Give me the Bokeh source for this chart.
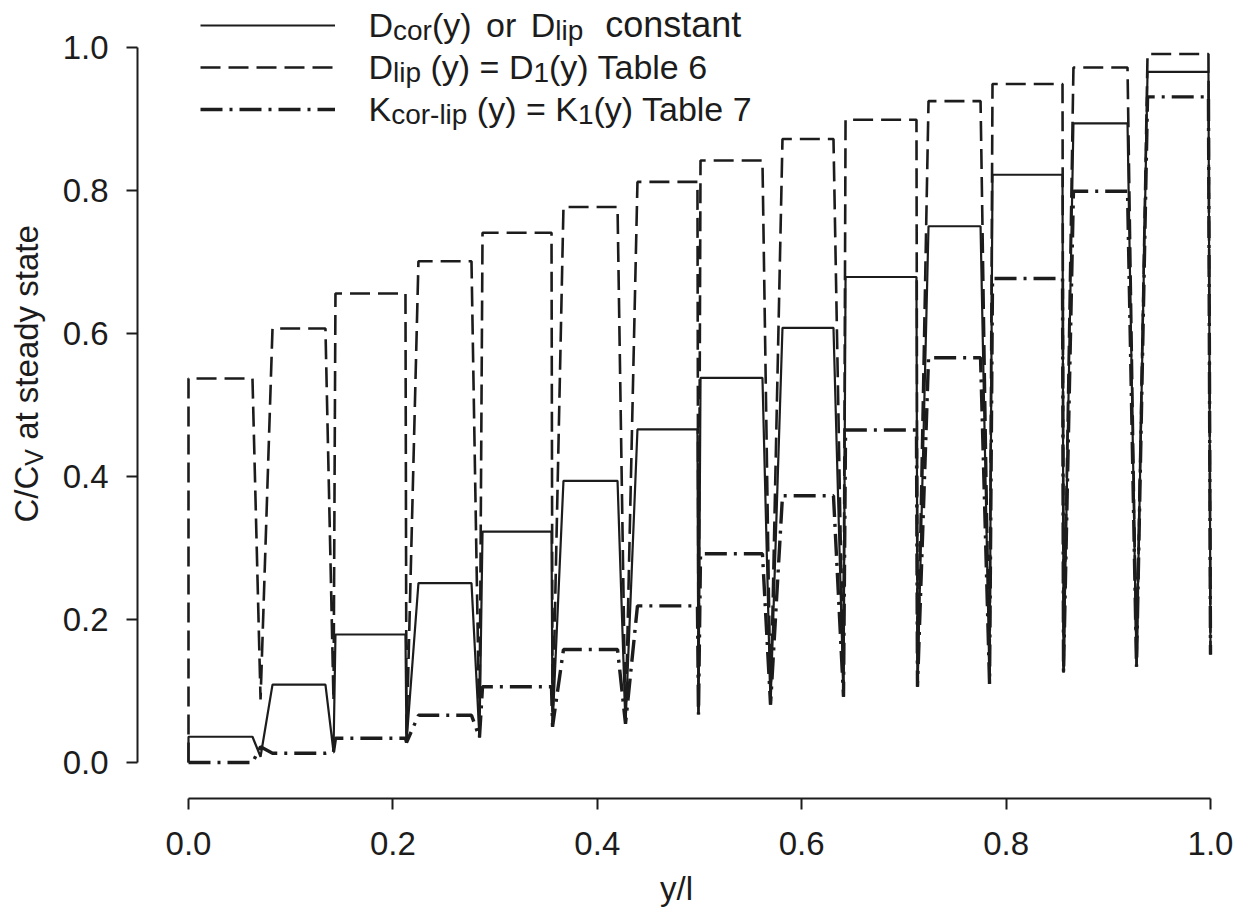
import numpy as np
from bokeh.plotting import figure
from bokeh.layouts import row
from bokeh.models import (Range1d, LinearAxis, FixedTicker, NumeralTickFormatter,
                          Legend, LegendItem, Label)
from bokeh.embed import file_html
from bokeh.resources import INLINE

# Plateau concentration C/Cv inside each of the 14 corneocyte layers
layer_const = [0.036, 0.109, 0.179, 0.251, 0.323, 0.394, 0.466,
               0.538, 0.608, 0.679, 0.750, 0.822, 0.894, 0.966]
layer_dlip_t6 = [0.537, 0.607, 0.656, 0.701, 0.741, 0.777, 0.812,
                 0.842, 0.872, 0.899, 0.925, 0.949, 0.972, 0.991]
layer_kcorlip_t7 = [0.000, 0.013, 0.034, 0.066, 0.106, 0.158, 0.219,
                    0.292, 0.373, 0.465, 0.566, 0.677, 0.799, 0.931]

# Lipid troughs between layers: end of plateau, trough bottom, start of next plateau (y/l)
trough_start = [0.0626, 0.1340, 0.2123, 0.2769, 0.3552, 0.4198, 0.4980,
                0.5616, 0.6311, 0.7123, 0.7750, 0.8552, 0.9188, 0.9980]
trough_mid = [0.0705, 0.1419, 0.2133, 0.2847, 0.3562, 0.4276, 0.4990,
              0.5695, 0.6409, 0.7133, 0.7838, 0.8562, 0.9276, 1.0000]
trough_end = [0.0822, 0.1438, 0.2250, 0.2877, 0.3669, 0.4393, 0.5010,
              0.5812, 0.6429, 0.7241, 0.7867, 0.8659, 0.9384]

# Trough bottom values for each profile
floor_const = [0.008, 0.015, 0.028, 0.035, 0.050, 0.054, 0.067,
               0.081, 0.092, 0.106, 0.110, 0.126, 0.134, 0.151]
floor_dlip_t6 = [0.088, 0.086, 0.028, 0.035, 0.050, 0.054, 0.067,
                 0.081, 0.092, 0.106, 0.110, 0.126, 0.134, 0.151]
floor_kcorlip_t7 = [0.022, 0.015, 0.028, 0.035, 0.050, 0.054, 0.067,
                    0.081, 0.092, 0.106, 0.110, 0.126, 0.134, 0.151]

x_ticks = [0.0, 0.2, 0.4, 0.6, 0.8, 1.0]
y_ticks = [0.0, 0.2, 0.4, 0.6, 0.8, 1.0]


def profile(levels, floors):
    xs, ys = [0.0, 0.0], [0.0, levels[0]]
    for k in range(len(levels)):
        xs += [trough_start[k], trough_mid[k]]
        ys += [levels[k], floors[k]]
        if k + 1 < len(levels):
            xs.append(trough_end[k])
            ys.append(levels[k + 1])
    return xs, ys


INK = "#1c1c1c"
FONT = "Liberation Sans"

# Arial-metric advance widths (per 1000 em)
ADV = {" ": 278, "(": 333, ")": 333, "=": 584, "-": 333, "/": 278, ".": 278,
       "1": 556, "6": 556, "7": 556,
       "C": 722, "D": 722, "K": 667, "T": 611, "V": 667,
       "a": 556, "b": 556, "c": 500, "d": 556, "e": 556, "i": 222, "l": 222,
       "n": 556, "o": 556, "p": 556, "r": 333, "s": 500, "t": 278, "y": 500}


def width(s, size):
    return sum(ADV.get(ch, 556) for ch in s) * size / 1000.0


def sub_shift(main, sub, drop):
    # distance between the em-box middles of a main run and its subscript
    return 0.3465 * main + drop - 0.3465 * sub


# ---- overall geometry (page pixels) ----
W, H = 1250, 916
WA = 56                       # strip holding the rotated y title
FL, FR, FT, FB = 137, 1215, 5, 798
X0PX, X1PX = 188, 1210
Y0PX, Y1PX = 762, 47
sx = (X1PX - X0PX)
sy = (Y0PX - Y1PX)

# ---- y title strip ----
fa = figure(width=WA, height=H, x_range=Range1d(0, WA), y_range=Range1d(0, 1),
            x_axis_location=None, y_axis_location=None, toolbar_location=None,
            output_backend="svg", min_border_left=0, min_border_right=0,
            min_border_top=FT, min_border_bottom=H - FB, outline_line_color=None)
fa.grid.grid_line_color = None

YMAIN, YSUB = 33, 25
yt_center_x = 26
ypos = 522
for txt, is_sub in [("C/C", False), ("V", True), (" at steady state", False)]:
    size = YSUB if is_sub else YMAIN
    lead = len(txt) - len(txt.lstrip(" "))
    ypos -= width(" " * lead, size)
    txt = txt.lstrip(" ")
    cx = yt_center_x + (sub_shift(YMAIN, YSUB, 5) if is_sub else 0)
    fa.add_layout(Label(x=cx, y=FB - ypos, x_units="screen", y_units="screen",
                        text=txt, text_font=FONT, text_font_size=f"{size}px",
                        text_color=INK, text_align="left", text_baseline="middle",
                        angle=np.pi / 2, angle_units="rad"))
    ypos -= width(txt, size)

# ---- main plot ----
p = figure(width=W - WA, height=H,
           x_range=Range1d((FL - X0PX) / sx, (FR - X0PX) / sx),
           y_range=Range1d((Y0PX - FB) / sy, (Y0PX - FT) / sy),
           x_axis_location=None, y_axis_location=None,
           toolbar_location=None, output_backend="svg",
           min_border_left=FL - WA, min_border_right=W - FR,
           min_border_top=FT, min_border_bottom=H - FB,
           outline_line_color=None)
p.grid.grid_line_color = None

xs, ys = profile(layer_const, floor_const)
r1 = p.line(xs, ys, line_color=INK, line_width=2.2)
xs, ys = profile(layer_dlip_t6, floor_dlip_t6)
r2 = p.line(xs, ys, line_color=INK, line_width=2.6, line_dash="20 8")
xs, ys = profile(layer_kcorlip_t7, floor_kcorlip_t7)
r3 = p.line(xs, ys, line_color=INK, line_width=3.4, line_dash="22 7 3 7")

axis_style = dict(axis_line_width=2, axis_line_color=INK,
                  major_tick_line_width=2, major_tick_line_color=INK,
                  major_tick_out=11, major_tick_in=0,
                  minor_tick_out=0, minor_tick_in=0,
                  major_label_text_font=FONT, major_label_text_font_size="33px",
                  major_label_text_color=INK,
                  formatter=NumeralTickFormatter(format="0.0"),
                  bounds=(0, 1))
xaxis = LinearAxis(ticker=FixedTicker(ticks=x_ticks), major_label_standoff=22,
                   axis_label="y/l", axis_label_text_font=FONT,
                   axis_label_text_font_size="33px", axis_label_text_font_style="normal",
                   axis_label_text_color=INK, axis_label_standoff=12, **axis_style)
yaxis = LinearAxis(ticker=FixedTicker(ticks=y_ticks), major_label_standoff=18, **axis_style)
p.add_layout(xaxis, "below")
p.add_layout(yaxis, "left")

# legend: sample lines only, labels are composed below with subscripts
legend = Legend(items=[LegendItem(label=" ", renderers=[r1]),
                       LegendItem(label=" ", renderers=[r2]),
                       LegendItem(label=" ", renderers=[r3])],
                location=(200 - FL, FB - 130),
                glyph_width=135, glyph_height=42, spacing=0, padding=0, margin=0,
                label_standoff=0, label_width=0, label_height=0,
                label_text_font_size="1px",
                border_line_color=None, background_fill_alpha=0)
p.add_layout(legend)

MAIN, SUB, DROP = 34, 28, 4


def rich_row(pieces, x_px, center_px):
    """pieces: list of (text, size, is_sub, extra gap before); laid out on one line."""
    x = x_px
    for txt, size, is_sub, gap in pieces:
        lead = len(txt) - len(txt.lstrip(" "))
        x += width(" " * lead, size) + gap
        txt = txt.lstrip(" ")
        y = center_px + (sub_shift(MAIN, size, DROP) if is_sub else 0)
        p.add_layout(Label(x=x - FL, y=FB - y, x_units="screen", y_units="screen",
                           text=txt, text_font=FONT, text_font_size=f"{size}px",
                           text_color=INK, text_baseline="middle", text_align="left"))
        x += width(txt, size)


rich_row([("D", MAIN, False, 0), ("cor", SUB, True, 0), ("(y)", MAIN, False, 0),
          (" or", MAIN, False, 5), (" D", MAIN, False, 5), ("lip", SUB, True, 0),
          (" constant", 36, False, 12)], 368, 24)
rich_row([("D", MAIN, False, 0), ("lip", SUB, True, 0), (" (y) = D", MAIN, False, 0),
          ("1", SUB, True, 0), ("(y) Table 6", MAIN, False, 0)], 368, 66)
rich_row([("K", MAIN, False, 0), ("cor-lip", SUB, True, 0), (" (y) = K", MAIN, False, 0),
          ("1", SUB, True, 0), ("(y) Table 7", MAIN, False, 0)], 368, 108)

layout = row(fa, p)
open("out.html", "w").write(file_html(layout, INLINE))
